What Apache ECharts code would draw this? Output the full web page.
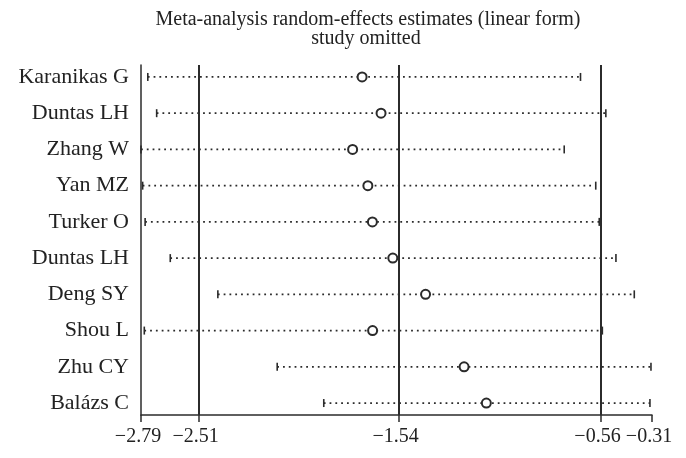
<!DOCTYPE html>
<html>
<head>
<meta charset="utf-8">
<script src="https://cdn.jsdelivr.net/npm/echarts@6/dist/echarts.min.js"></script>
<style>
  html, body { margin: 0; padding: 0; background: #fff; }
  #main { width: 686px; height: 458px; }
</style>
</head>
<body>
<div id="main"></div>
<script>
// study omitted, top to bottom
var studies = ['Karanikas G', 'Duntas LH', 'Zhang W', 'Yan MZ', 'Turker O',
  'Duntas LH', 'Deng SY', 'Shou L', 'Zhu CY', 'Balázs C'];
var estimates = [-1.717, -1.625, -1.763, -1.689, -1.667, -1.568, -1.409, -1.666, -1.222, -1.114];
var lower = [-2.757, -2.714, -2.79, -2.782, -2.77, -2.648, -2.417, -2.774, -2.129, -1.903];
var upper = [-0.657, -0.534, -0.736, -0.583, -0.566, -0.485, -0.396, -0.551, -0.315, -0.32];
var tickValues = [-2.79, -2.51, -1.54, -0.56, -0.31];
var refLines = [-2.51, -1.54, -0.56];

var ink = '#2b2b2b';
var serif = '"Liberation Serif", "DejaVu Serif", serif';

var ciData = [];
var pointData = [];
for (var i = 0; i < studies.length; i++) {
  ciData.push([lower[i], upper[i], i]);
  pointData.push([estimates[i], i]);
}

function minus(v) {
  return v.toFixed(2).replace('-', '\u2212');
}

var chart = echarts.init(document.getElementById('main'));

chart.setOption({
  animation: false,
  backgroundColor: '#fff',
  graphic: [
    {
      type: 'text', x: 368, y: 20,
      style: { text: 'Meta-analysis random-effects estimates (linear form)', align: 'center',
        verticalAlign: 'middle', font: '20px ' + serif, fill: '#222' }
    },
    {
      type: 'text', x: 366, y: 39,
      style: { text: 'study omitted', align: 'center', verticalAlign: 'middle',
        font: '20px ' + serif, fill: '#222' }
    }
  ],
  grid: { left: 141, right: 34, top: 65, bottom: 43 },
  xAxis: {
    type: 'value',
    min: -2.79,
    max: -0.31,
    splitLine: { show: false },
    axisLine: { onZero: false, lineStyle: { color: ink, width: 1.5 } },
    axisTick: { customValues: tickValues, length: 7, lineStyle: { color: ink, width: 1.5 } },
    axisLabel: {
      customValues: tickValues,
      formatter: minus,
      color: '#222',
      fontFamily: serif,
      fontSize: 20,
      margin: 12,
      padding: [0, 6, 0, 0]
    }
  },
  yAxis: {
    type: 'value',
    inverse: true,
    min: -0.33,
    max: 9.33,
    splitLine: { show: false },
    axisLine: { show: true, onZero: false, lineStyle: { color: ink, width: 1.5 } },
    axisTick: { show: false },
    axisLabel: {
      customValues: [0, 1, 2, 3, 4, 5, 6, 7, 8, 9],
      formatter: function (v) { return studies[Math.round(v)]; },
      color: '#222',
      fontFamily: serif,
      fontSize: 22,
      margin: 12
    }
  },
  series: [
    {
      type: 'custom',
      data: ciData,
      encode: { x: [0, 1], y: 2 },
      renderItem: function (params, api) {
        var a = api.coord([api.value(0), api.value(2)]);
        var b = api.coord([api.value(1), api.value(2)]);
        return {
          type: 'group',
          children: [
            {
              type: 'line',
              shape: { x1: a[0], y1: a[1], x2: b[0], y2: b[1] },
              style: { stroke: ink, lineWidth: 1.8, lineDash: [1.8, 4] }
            },
            {
              type: 'line',
              shape: { x1: a[0], y1: a[1] - 4, x2: a[0], y2: a[1] + 4 },
              style: { stroke: ink, lineWidth: 1.6 }
            },
            {
              type: 'line',
              shape: { x1: b[0], y1: b[1] - 4, x2: b[0], y2: b[1] + 4 },
              style: { stroke: ink, lineWidth: 1.6 }
            }
          ]
        };
      },
      z: 2
    },
    {
      type: 'scatter',
      data: pointData,
      symbol: 'circle',
      symbolSize: 9,
      itemStyle: { color: '#fff', borderColor: ink, borderWidth: 2, opacity: 1 },
      z: 3,
      markLine: {
        silent: true,
        symbol: 'none',
        label: { show: false },
        lineStyle: { color: ink, width: 2, type: 'solid' },
        data: refLines.map(function (v) { return { xAxis: v }; })
      }
    }
  ]
});
</script>
</body>
</html>
